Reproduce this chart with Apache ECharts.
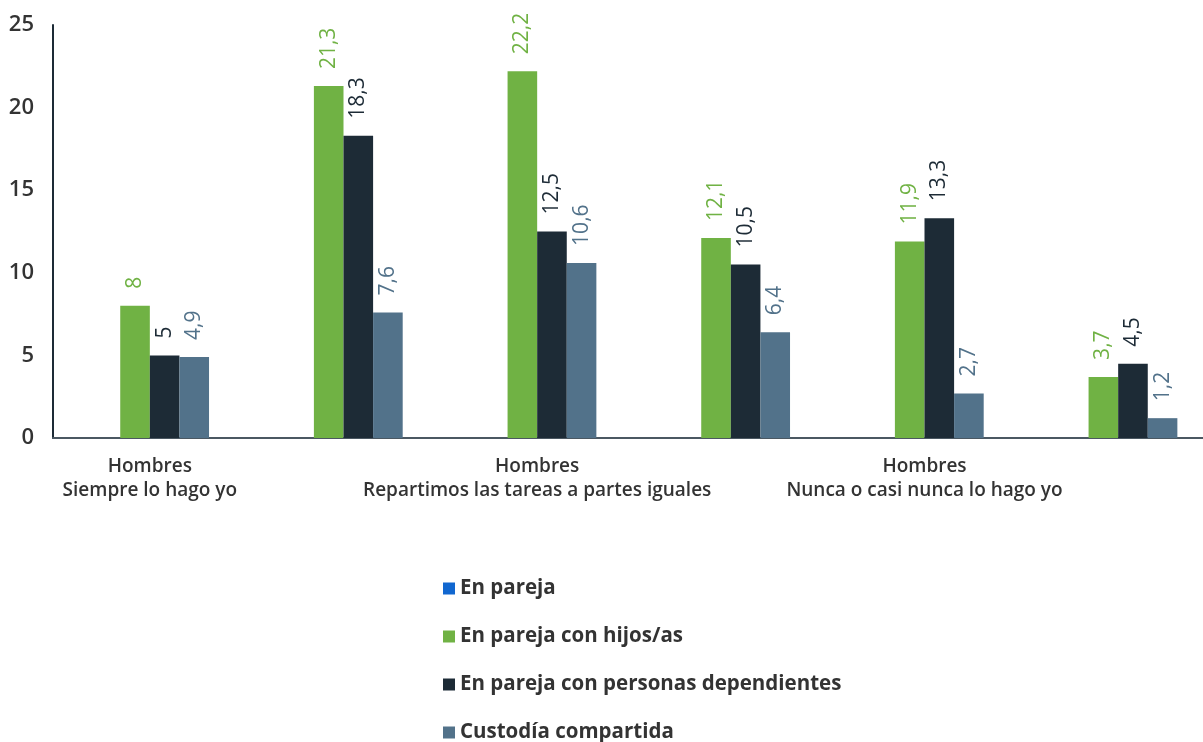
<!DOCTYPE html>
<html>
<head>
<meta charset="utf-8">
<script src="https://cdn.jsdelivr.net/npm/echarts@6/dist/echarts.min.js"></script>
<style>
html,body{margin:0;padding:0;background:#fff;}
#chart{width:1203px;height:742px;}
</style>
</head>
<body>
<div id="chart"></div>
<script>
const categories = [
  "Hombres\nSiempre lo hago yo",
  "Mujeres\nSiempre lo hago yo",
  "Hombres\nRepartimos las tareas a partes iguales",
  "Mujeres\nRepartimos las tareas a partes iguales",
  "Hombres\nNunca o casi nunca lo hago yo",
  "Mujeres\nNunca o casi nunca lo hago yo"
];
const seriesNames = ["En pareja", "En pareja con hijos/as", "En pareja con personas dependientes", "Custodía compartida"];
const enPareja = [null, null, null, null, null, null];
const conHijos = [8, 21.3, 22.2, 12.1, 11.9, 3.7];
const conDependientes = [5, 18.3, 12.5, 10.5, 13.3, 4.5];
const custodia = [4.9, 7.6, 10.6, 6.4, 2.7, 1.2];
const yTicks = [0, 5, 10, 15, 20, 25];

const colors = ["#1167d0", "#70b244", "#1d2b36", "#52728a"];
const FONT = "Open Sans";

function mk(name, data, color) {
  return {
    name: name,
    type: "bar",
    data: data,
    barWidth: 29.6,
    barGap: "0%",
    itemStyle: { color: color },
    label: {
      show: true,
      position: "top",
      rotate: 90,
      align: "left",
      verticalAlign: "middle",
      distance: 17,
      color: color,
      fontFamily: FONT,
      fontSize: 21,
      formatter: p => (p.value === null || p.value === undefined) ? "" : String(p.value).replace(".", ",")
    }
  };
}

const chart = echarts.init(document.getElementById("chart"));
chart.setOption({
  animation: false,
  color: colors,
  grid: { left: 53, right: -12, top: 25, bottom: 304, containLabel: false, outerBoundsMode: "none" },
  legend: {
    orient: "vertical",
    left: 443,
    top: 578,
    height: 300,
    padding: 0,
    itemWidth: 12,
    itemHeight: 12,
    itemGap: 27,
    icon: "rect",
    textStyle: { fontFamily: FONT, fontSize: 20.5, fontWeight: "bold", color: "#333", lineHeight: 18 },
    data: seriesNames
  },
  xAxis: {
    type: "category",
    data: categories,
    axisTick: { show: false },
    axisLine: { lineStyle: { color: "#4b5862", width: 2 } },
    axisLabel: {
      interval: 1,
      margin: 17,
      fontFamily: FONT,
      fontSize: 19,
      fontWeight: 600,
      lineHeight: 24,
      color: "#333"
    }
  },
  yAxis: {
    type: "value",
    min: 0,
    max: 25,
    interval: 5,
    splitLine: { show: false },
    axisTick: { show: false },
    axisLine: { show: true, lineStyle: { color: "#1d2b36", width: 2 } },
    axisLabel: {
      margin: 19,
      fontFamily: FONT,
      fontSize: 22,
      fontWeight: 600,
      color: "#333",
      formatter: v => yTicks.includes(v) ? String(v) : ""
    }
  },
  series: [
    mk(seriesNames[0], enPareja, colors[0]),
    mk(seriesNames[1], conHijos, colors[1]),
    mk(seriesNames[2], conDependientes, colors[2]),
    mk(seriesNames[3], custodia, colors[3])
  ]
});
</script>
</body>
</html>
